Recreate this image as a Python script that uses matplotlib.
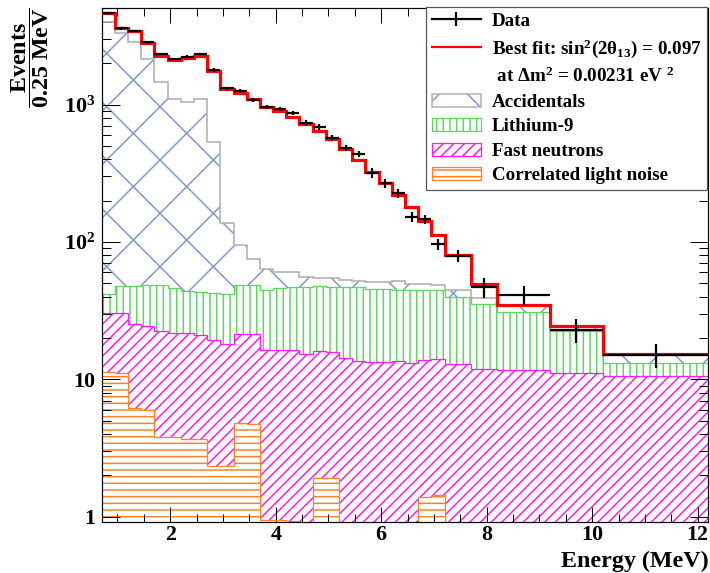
import numpy as np
import matplotlib
matplotlib.use("Agg")
import matplotlib.pyplot as plt
from matplotlib.lines import Line2D
from matplotlib.patches import Patch
from matplotlib.ticker import LogLocator, NullFormatter, FixedLocator, MultipleLocator, FuncFormatter

# hatch tiles are one inch wide, so a high dpi gives the sparse ROOT-like hatching
DPI = 160
PX = 72.0 / DPI   # one pixel in points

plt.rcParams['font.family'] = ['Liberation Serif', 'DejaVu Serif']
plt.rcParams['font.weight'] = 'bold'
plt.rcParams['mathtext.fontset'] = 'custom'
plt.rcParams['mathtext.rm'] = 'Liberation Serif:bold'
plt.rcParams['mathtext.it'] = 'Liberation Serif:bold:italic'
plt.rcParams['mathtext.bf'] = 'Liberation Serif:bold'
plt.rcParams['hatch.linewidth'] = 1.5 * PX

# bin edges (MeV)
edges = [0.7, 0.95, 1.2, 1.45, 1.7, 1.95, 2.2, 2.45, 2.7, 2.95, 3.2, 3.45, 3.7,
         3.95, 4.2, 4.45, 4.7, 4.95, 5.2, 5.45, 5.7, 5.95, 6.2, 6.45, 6.7, 6.95,
         7.2, 7.7, 8.2, 9.2, 10.2, 12.2]

# events / 0.25 MeV
data = [4600, 3580, 3440, 2830, 2320, 2140, 2230, 2320, 1780, 1310,
        1250, 1080, 964, 927, 867, 730, 690, 574, 485, 434,
        319, 267, 226, 153, 146, 96, 79, 47, 41, 23, 15.1]
data_err = [92, 72, 69, 57, 46, 43, 45, 46, 53, 39,
            38, 32, 29, 28, 26, 37, 34, 29, 24, 22,
            25, 21, 18, 13, 12, 8.4, 8, 8, 6.5, 4.7, 3.0]
best_fit = [4600, 3600, 3420, 2800, 2270, 2100, 2190, 2270, 1750, 1290,
            1220, 1090, 964, 897, 815, 718, 642, 560, 472, 395,
            324, 267, 220, 181, 143, 112, 80, 49.5, 34.8, 24.5, 15.3]

# backgrounds, stacked bottom to top: light noise, fast n, Li-9, accidentals
light_noise = [11.4, 11.2, 6.2, 6.0, 3.8, 3.8, 3.7, 3.7, 2.35, 2.35,
               4.8, 4.7, 0.95, 0.95, 0.93, 0, 1.9, 1.93, 0, 0,
               0, 0, 0, 0, 1.4, 1.45, 0, 0, 0, 0, 0]
fast_neutrons = [19.2, 19.4, 19.0, 18.5, 18.5, 17.8, 17.9, 17.3, 17.05, 15.75,
                 16.5, 16.6, 15.45, 15.45, 15.47, 15.4, 14.3, 13.77, 14.3, 13.6,
                 13.3, 13.3, 13.5, 13.1, 12.5, 12.55, 12.9, 11.9, 11.7, 11.2, 10.5]
lithium9 = [11.1, 17.3, 22.7, 24.2, 26.4, 24.4, 22.0, 22.5, 23.4, 23.8,
            27.4, 27.4, 28.4, 29.6, 30.4, 31.9, 31.7, 31.6, 32.6, 33.3,
            32.2, 32.0, 31.5, 31.7, 30.9, 30.8, 27.1, 23.3, 19.4, 11.1, 2.6]
accidentals = [3938, 3248, 2816, 2084, 1417, 1045, 1004, 1048, 493, 95,
               46.3, 26.1, 18.4, 14.8, 14.0, 8.6, 7.1, 7.2, 6.0, 5.2,
               5.4, 6.1, 7.1, 4.7, 4.5, 3.9, 4.8, 4.1, 3.4, 1.6, 1.9]

col_acc_hatch = '#7f97d3'
col_acc_line = '#b0b0b0'
col_li9 = '#5cd65c'
col_fn = '#ff1aff'
col_cln = '#ff8326'

edges = np.array(edges)
centers = 0.5 * (edges[1:] + edges[:-1])
halfw = 0.5 * (edges[1:] - edges[:-1])
floor = 0.3   # below the axis, stands in for zero on the log scale

layers = [(light_noise, col_cln, col_cln, '----'),
          (fast_neutrons, col_fn, col_fn, '/////'),
          (lithium9, col_li9, col_li9, '||||'),
          (accidentals, col_acc_hatch, col_acc_line, 'x')]

fig = plt.figure(figsize=(710 / DPI, 573 / DPI), dpi=DPI)
ax = fig.add_axes([0.1432, 0.0895, 0.8544, 0.8957])
ax.set_yscale('log')

lower = np.zeros(len(centers))
for vals, hcol, lcol, hatch in layers:
    upper = lower + np.array(vals)
    ax.stairs(np.maximum(upper, floor), edges, baseline=np.maximum(lower, floor),
              fill=True, facecolor='none', edgecolor=hcol, hatch=hatch, lw=0, zorder=1)
    ax.stairs(np.maximum(upper, floor), edges, baseline=None, color=lcol,
              lw=1.3 * PX if lcol != col_acc_line else 1.6 * PX, zorder=2)
    lower = upper

ax.stairs(best_fit, edges, baseline=None, color='red', lw=3.2 * PX, zorder=3)
ax.errorbar(centers, data, xerr=halfw, yerr=data_err, fmt='none', ecolor='black',
            elinewidth=2.2 * PX, capsize=0, zorder=4)

ax.set_xlim(0.7, 12.2)
ax.set_ylim(0.92, 5000)

ax.xaxis.set_major_locator(FixedLocator([2, 4, 6, 8, 10, 12]))
ax.xaxis.set_minor_locator(MultipleLocator(0.5))
ax.yaxis.set_major_locator(FixedLocator([1, 10, 100, 1000]))
ax.yaxis.set_minor_locator(LogLocator(base=10, subs=np.arange(2, 10)))
ax.yaxis.set_minor_formatter(NullFormatter())
ylabels = {1: '1', 10: '10', 100: r'$10^{2}$', 1000: r'$10^{3}$'}
ax.yaxis.set_major_formatter(FuncFormatter(lambda v, p: ylabels.get(int(round(v)), '')))

ax.tick_params(which='both', direction='in', top=True, right=True,
               width=1.0 * PX, labelsize=22 * PX)
ax.tick_params(axis='x', which='major', length=15 * PX, pad=3 * PX)
ax.tick_params(axis='x', which='minor', length=8 * PX)
ax.tick_params(axis='y', which='major', length=18 * PX, pad=6 * PX)
ax.tick_params(axis='y', which='minor', length=9 * PX)
for s in ax.spines.values():
    s.set_linewidth(1.2 * PX)

fig.text(708.3 / 710, 1 - 561.7 / 573, 'Energy (MeV)', ha='right', va='center',
         fontsize=24 * PX, fontweight='bold')
fig.text(30 / 710, 1 - 57.5 / 573, r'$\dfrac{\mathrm{Events}}{\mathrm{0.25\ MeV}}$',
         rotation=90, ha='center', va='center', fontsize=24 * PX)

handles = [
    Line2D([], [], color='black', lw=2.2 * PX, marker='|', markersize=14 * PX,
           markeredgewidth=2.2 * PX),
    Line2D([], [], color='red', lw=2.2 * PX),
    Patch(facecolor='none', edgecolor='none'),
    (Patch(facecolor='white', edgecolor=col_acc_hatch, hatch='x', lw=0),
     Patch(facecolor='none', edgecolor=col_acc_line, lw=1.5 * PX)),
    Patch(facecolor='white', edgecolor=col_li9, hatch='||||', lw=1.3 * PX),
    Patch(facecolor='white', edgecolor=col_fn, hatch='/////', lw=1.3 * PX),
    Patch(facecolor='white', edgecolor=col_cln, hatch='----', lw=1.3 * PX),
]
labels = ['Data',
          r'Best fit: sin$^{2}$(2θ$_{13}$) = 0.097',
          r' at Δm$^{2}$ = 0.00231 eV $^{2}$',
          'Accidentals', 'Lithium-9', 'Fast neutrons', 'Correlated light noise']

leg = ax.legend(handles, labels, loc='upper right',
                bbox_to_anchor=(707 / 710, 1 - 7 / 573), bbox_transform=fig.transFigure,
                borderaxespad=0, fontsize=19 * PX, frameon=True, fancybox=False,
                edgecolor='#555555', framealpha=1, borderpad=0.3, labelspacing=0.38,
                handlelength=2.6, handleheight=0.7, handletextpad=0.55)
leg.get_frame().set_linewidth(1.2 * PX)
leg.set_zorder(10)

fig.savefig('out.png', dpi=DPI)
